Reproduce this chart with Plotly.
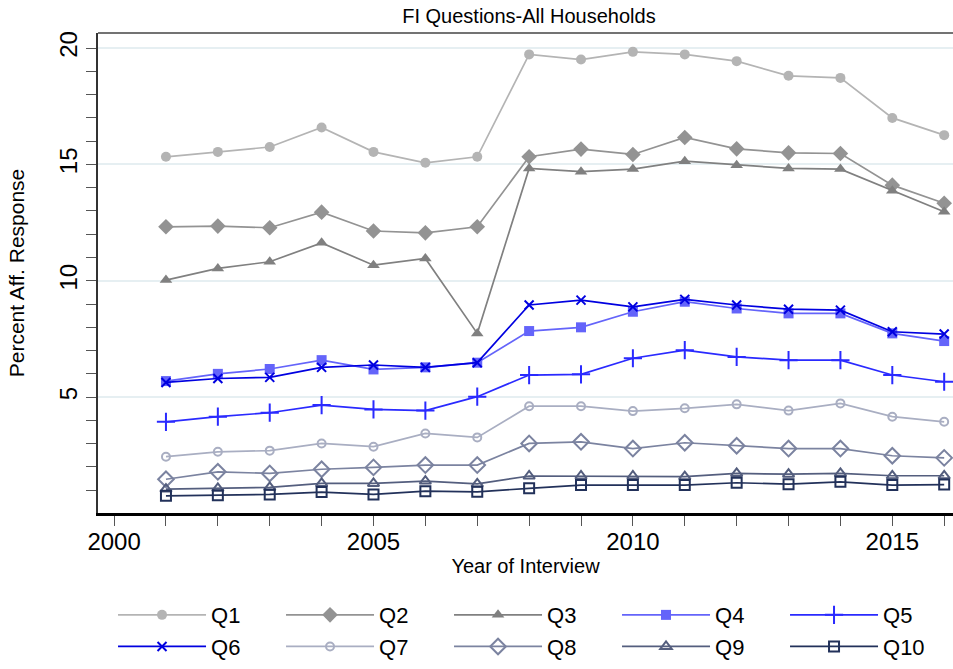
import plotly.graph_objects as go

# Survey years
years = list(range(2001, 2017))

# Percent of households giving an affirmative response, by question
q1 = [15.33, 15.54, 15.75, 16.59, 15.54, 15.07, 15.33, 19.73, 19.51, 19.84, 19.73, 19.44, 18.81, 18.72, 17.00, 16.26]
q2 = [12.32, 12.35, 12.28, 12.95, 12.14, 12.06, 12.32, 15.33, 15.66, 15.43, 16.16, 15.67, 15.50, 15.47, 14.11, 13.33]
q3 = [10.03, 10.53, 10.82, 11.63, 10.67, 10.96, 7.74, 14.83, 14.69, 14.80, 15.14, 14.97, 14.83, 14.80, 13.87, 12.97]
q4 = [5.69, 6.00, 6.21, 6.59, 6.19, 6.28, 6.48, 7.84, 8.00, 8.67, 9.10, 8.81, 8.60, 8.60, 7.74, 7.41]
q5 = [3.94, 4.16, 4.33, 4.66, 4.47, 4.42, 5.02, 5.95, 5.98, 6.67, 7.02, 6.73, 6.59, 6.59, 5.95, 5.66]
q6 = [5.63, 5.80, 5.85, 6.28, 6.38, 6.28, 6.48, 8.96, 9.17, 8.88, 9.20, 8.96, 8.78, 8.74, 7.81, 7.71]
q7 = [2.44, 2.65, 2.70, 3.01, 2.87, 3.44, 3.27, 4.61, 4.61, 4.40, 4.52, 4.69, 4.42, 4.73, 4.16, 3.94]
q8 = [1.47, 1.79, 1.72, 1.90, 1.98, 2.08, 2.08, 3.01, 3.08, 2.79, 3.04, 2.91, 2.79, 2.79, 2.48, 2.39]
q9 = [1.05, 1.08, 1.12, 1.29, 1.29, 1.39, 1.27, 1.61, 1.61, 1.61, 1.58, 1.72, 1.69, 1.72, 1.62, 1.62]
q10 = [0.76, 0.78, 0.82, 0.92, 0.82, 0.96, 0.93, 1.08, 1.22, 1.22, 1.22, 1.32, 1.26, 1.36, 1.22, 1.24]

series_names = ["Q1", "Q2", "Q3", "Q4", "Q5", "Q6", "Q7", "Q8", "Q9", "Q10"]
series_values = [q1, q2, q3, q4, q5, q6, q7, q8, q9, q10]

# (line colour, marker symbol, marker size)
styles = [
    ("#b4b4b4", "circle", 10),
    ("#939393", "diamond", 12),
    ("#808080", "triangle-up", 11),
    ("#6464fa", "square", 10),
    ("#2a2aff", "cross-thin", 13),
    ("#0000e0", "x-thin", 9),
    ("#a9aec2", "circle-open", 8),
    ("#7b83a0", "diamond-open", 12),
    ("#545e7e", "triangle-up-open", 10),
    ("#22315a", "square-open", 10),
]

FONT = "Liberation Sans, Arial, sans-serif"

fig = go.Figure()
for name, vals, (color, symbol, size) in zip(series_names, series_values, styles):
    thin = symbol.endswith("-thin") or symbol.endswith("-open")
    fig.add_trace(go.Scatter(
        x=years, y=vals, name=name, mode="lines+markers",
        line=dict(color=color, width=1.7),
        marker=dict(symbol=symbol, size=size, color=color,
                    line=dict(color=color, width=2 if thin else 0)),
    ))

fig.update_layout(
    width=953, height=669,
    margin=dict(l=98, r=0, t=33, b=156),
    paper_bgcolor="white", plot_bgcolor="white",
    font=dict(family=FONT, color="#000000"),
    title=dict(text="FI Questions-All Households", x=0.504, xref="paper",
               y=0.976, yref="container", xanchor="center", yanchor="middle",
               font=dict(size=20, color="#000000")),
    xaxis=dict(
        range=[1999.69, 2016.17], tickmode="linear", tick0=2000, dtick=5,
        ticks="outside", ticklen=10, tickwidth=1.3, tickcolor="#555555",
        minor=dict(dtick=1, ticks="outside", ticklen=10, tickwidth=1.3, tickcolor="#555555"),
        showgrid=False, zeroline=False,
        showline=True, linecolor="#000000", linewidth=2.5,
        tickfont=dict(size=24), ticklabelstandoff=-5,
        title=dict(text="Year of Interview", font=dict(size=20), standoff=6),
    ),
    yaxis=dict(
        range=[0.02, 20.65], tickmode="linear", tick0=0, dtick=5,
        ticks="outside", ticklen=10, tickwidth=1.3, tickcolor="#555555",
        minor=dict(dtick=1, ticks="outside", ticklen=10, tickwidth=1.3, tickcolor="#555555",
                   showgrid=False),
        showgrid=True, gridcolor="#e6eff2", gridwidth=1.5, zeroline=False,
        showline=True, linecolor="#333333", linewidth=1.5,
        tickangle=-90, tickfont=dict(size=24),
        title=dict(text="Percent Aff. Response", font=dict(size=21), standoff=24),
    ),
    legend=dict(
        orientation="h", x=0.1186, xanchor="left", xref="container",
        y=0.112, yanchor="top", yref="container",
        entrywidth=65, entrywidthmode="pixels", itemwidth=88,
        font=dict(size=22), tracegroupgap=0, bgcolor="rgba(0,0,0,0)",
    ),
    shapes=[dict(type="line", xref="paper", yref="paper", x0=0, x1=1, y0=1, y1=1,
                 line=dict(color="#444444", width=1.5))],
)

fig.write_html("out.html")
